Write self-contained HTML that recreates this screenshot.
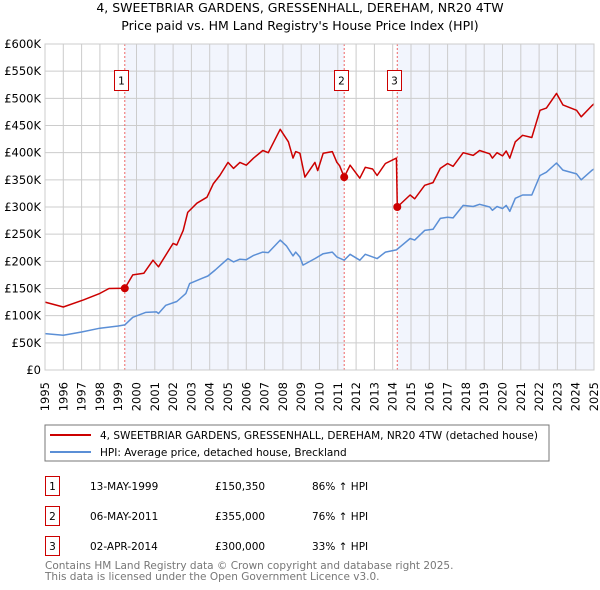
<!DOCTYPE html>
<html><head><meta charset="utf-8"><style>
body{margin:0;background:#fff;font-family:"Liberation Sans","DejaVu Sans",sans-serif}
svg{display:block}
text{font-family:"DejaVu Sans","Liberation Sans",sans-serif}
</style></head><body>
<svg id="chart" width="600" height="590" viewBox="0 0 600 590">
<text x="300" y="12" text-anchor="middle" font-size="12.5" fill="#000">4, SWEETBRIAR GARDENS, GRESSENHALL, DEREHAM, NR20 4TW</text>
<text x="300" y="30" text-anchor="middle" font-size="12.5" fill="#000">Price paid vs. HM Land Registry's House Price Index (HPI)</text>
<g id="plot"></g>
<g>
<rect x="45" y="425" width="504" height="36" fill="#fff" stroke="#777"/>
<line x1="50" y1="435" x2="91" y2="435" stroke="#cc0000" stroke-width="2"/>
<text x="100" y="439" font-size="10.5">4, SWEETBRIAR GARDENS, GRESSENHALL, DEREHAM, NR20 4TW (detached house)</text>
<line x1="50" y1="452" x2="91" y2="452" stroke="#5b8fd6" stroke-width="2"/>
<text x="100" y="456" font-size="10.5">HPI: Average price, detached house, Breckland</text>
</g>
<g font-size="10.5">
<rect x="45.5" y="476.5" width="14" height="19" fill="#fff" stroke="#cc0000"/>
<text x="52.5" y="490" text-anchor="middle">1</text>
<text x="90" y="490">13-MAY-1999</text>
<text x="215" y="490">£150,350</text>
<text x="312" y="490">86% ↑ HPI</text>
<rect x="45.5" y="506.5" width="14" height="19" fill="#fff" stroke="#cc0000"/>
<text x="52.5" y="520" text-anchor="middle">2</text>
<text x="90" y="520">06-MAY-2011</text>
<text x="215" y="520">£355,000</text>
<text x="312" y="520">76% ↑ HPI</text>
<rect x="45.5" y="536.5" width="14" height="19" fill="#fff" stroke="#cc0000"/>
<text x="52.5" y="550" text-anchor="middle">3</text>
<text x="90" y="550">02-APR-2014</text>
<text x="215" y="550">£300,000</text>
<text x="312" y="550">33% ↑ HPI</text>
</g>
<text x="45" y="569" font-size="10.5" fill="#777">Contains HM Land Registry data © Crown copyright and database right 2025.</text>
<text x="45" y="580" font-size="10.5" fill="#777">This data is licensed under the Open Government Licence v3.0.</text>
</svg>
<script>
const yTicks=[0,50,100,150,200,250,300,350,400,450,500,550,600];
const yTickLabels=["£0","£50K","£100K","£150K","£200K","£250K","£300K","£350K","£400K","£450K","£500K","£550K","£600K"];
const xYears=[1995,1996,1997,1998,1999,2000,2001,2002,2003,2004,2005,2006,2007,2008,2009,2010,2011,2012,2013,2014,2015,2016,2017,2018,2019,2020,2021,2022,2023,2024,2025];
const saleLabels=["1","2","3"];
const saleDates=[1999.36,2011.35,2014.25];
const salePrices=[150.35,355,300];
const hpiDates=[1995,1996,1997,1998,1999,1999.36,1999.8,2000.5,2001.1,2001.2,2001.6,2002.2,2002.7,2002.9,2003.6,2003.9,2004.3,2004.6,2005,2005.3,2005.65,2006,2006.4,2006.9,2007.2,2007.85,2008.2,2008.55,2008.7,2008.93,2009.1,2009.75,2010.2,2010.7,2010.95,2011.35,2011.67,2012.2,2012.5,2013.15,2013.6,2014.2,2014.95,2015.2,2015.75,2016.2,2016.6,2017.0,2017.3,2017.85,2018.4,2018.75,2019.3,2019.45,2019.7,2020,2020.2,2020.4,2020.7,2021.1,2021.6,2022.05,2022.4,2022.95,2023.3,2024.05,2024.3,2024.9,2025];
const hpiValues=[67,64,70,77,81,83,97,106,107,104,119,126,141,159,169,173,184,193,205,199,204,203,211,217,216,239,228,210,217,208,193,205,214,217,208,202,213,202,213,205,217,221,242,239,257,259,279,281,280,303,301,305,300,294,301,297,303,292,316,322,322,358,364,381,368,361,350,368,370];
const priceDates=[1995,1996,1997.1,1998,1998.5,1999.36,1999.8,2000.4,2000.9,2001.2,2002,2002.2,2002.55,2002.8,2003.3,2003.85,2004.2,2004.55,2005,2005.3,2005.65,2006,2006.4,2006.9,2007.2,2007.85,2008.3,2008.55,2008.7,2008.93,2009.2,2009.75,2009.9,2010.2,2010.7,2010.95,2011.1,2011.35,2011.67,2012.2,2012.5,2012.9,2013.15,2013.6,2014.2,2014.25,2014.95,2015.2,2015.75,2016.2,2016.6,2017.0,2017.3,2017.85,2018.4,2018.75,2019.3,2019.45,2019.7,2020,2020.2,2020.4,2020.7,2021.1,2021.6,2022.05,2022.4,2022.95,2023.3,2024.05,2024.3,2024.9,2025];
const priceValues=[125,116,129,141,150,150.35,175,178,202,190,233,230,257,290,307,318,343,358,382,371,382,377,390,404,400,443,420,390,402,399,355,382,367,399,402,382,376,355,377,353,373,370,358,380,390,300,322,315,340,345,371,380,375,400,395,404,398,390,400,394,403,390,420,432,428,478,482,509,488,478,466,487,490];

const NS="http://www.w3.org/2000/svg";
const L=45,R=594,T=44,B=370,X0=1995,X1=2025,YMAX=600;
function sx(v){return L+(v-X0)/(X1-X0)*(R-L);}
function sy(v){return B-v/YMAX*(B-T);}
function mk(tag,attrs,parent){const e=document.createElementNS(NS,tag);for(const k in attrs)e.setAttribute(k,attrs[k]);parent.appendChild(e);return e;}
const g=document.getElementById('plot');
const bg=mk('rect',{x:L,y:T,width:R-L,height:B-T,fill:'#fff'},g);


const sh1=mk('rect',{x:sx(saleDates[0]),y:T,width:sx(saleDates[1])-sx(saleDates[0]),height:B-T,fill:'#f2f5fd'},g);


const sh2=mk('rect',{x:sx(saleDates[2]),y:T,width:R-sx(saleDates[2]),height:B-T,fill:'#f2f5fd'},g);


yTicks.forEach((v,i)=>{
  const ln=mk('line',{x1:L,x2:R,y1:sy(v),y2:sy(v),stroke:'#ccc','stroke-width':1},g);
  
  
  const t=mk('text',{x:L-4,y:sy(v)+4,'text-anchor':'end','font-size':11.5,fill:'#000'},g);
  
  
  t.textContent=yTickLabels[i];
});
xYears.forEach(yr=>{
  const ln=mk('line',{x1:sx(yr),x2:sx(yr),y1:T,y2:B,stroke:'#ccc','stroke-width':1},g);
  
  
  const x=sx(yr)+4,y=382;
  const t=mk('text',{x:x,y:y,'text-anchor':'end','font-size':11.5,fill:'#000',transform:`rotate(-90 ${x} ${y})`},g);
  
  
  t.textContent=yr;
});
saleDates.forEach((d,i)=>{
  const ln=mk('line',{x1:sx(d),x2:sx(d),y1:T,y2:B,stroke:'#e66','stroke-width':1,'stroke-dasharray':'2,2'},g);
  
  
});
function path(ds,vs,color,name){
  let p='';ds.forEach((d,i)=>{p+=(i?'L':'M')+sx(d).toFixed(1)+','+sy(vs[i]).toFixed(1);});
  const e=mk('path',{d:p,fill:'none',stroke:color,'stroke-width':1.5,'stroke-linejoin':'round'},g);
  
  
}
path(hpiDates,hpiValues,'#5b8fd6','hpi-line');
path(priceDates,priceValues,'#cc0000','price-paid-line');
saleDates.forEach((d,i)=>{
  const c=mk('circle',{cx:sx(d),cy:sy(salePrices[i]),r:4,fill:'#cc0000'},g);
  
  
  const bx=sx(d)-10.5;
  const r=mk('rect',{x:Math.round(bx)+0.5,y:70.5,width:14,height:20,fill:'#fff',stroke:'#cc0000'},g);
  
  
  const t=mk('text',{x:Math.round(bx)+7.5,y:84.5,'text-anchor':'middle','font-size':10.5},g);
  
  
  t.textContent=saleLabels[i];
});
const fr=mk('rect',{x:L,y:T,width:R-L,height:B-T,fill:'none',stroke:'#ccc'},g);


</script>
</body></html>
